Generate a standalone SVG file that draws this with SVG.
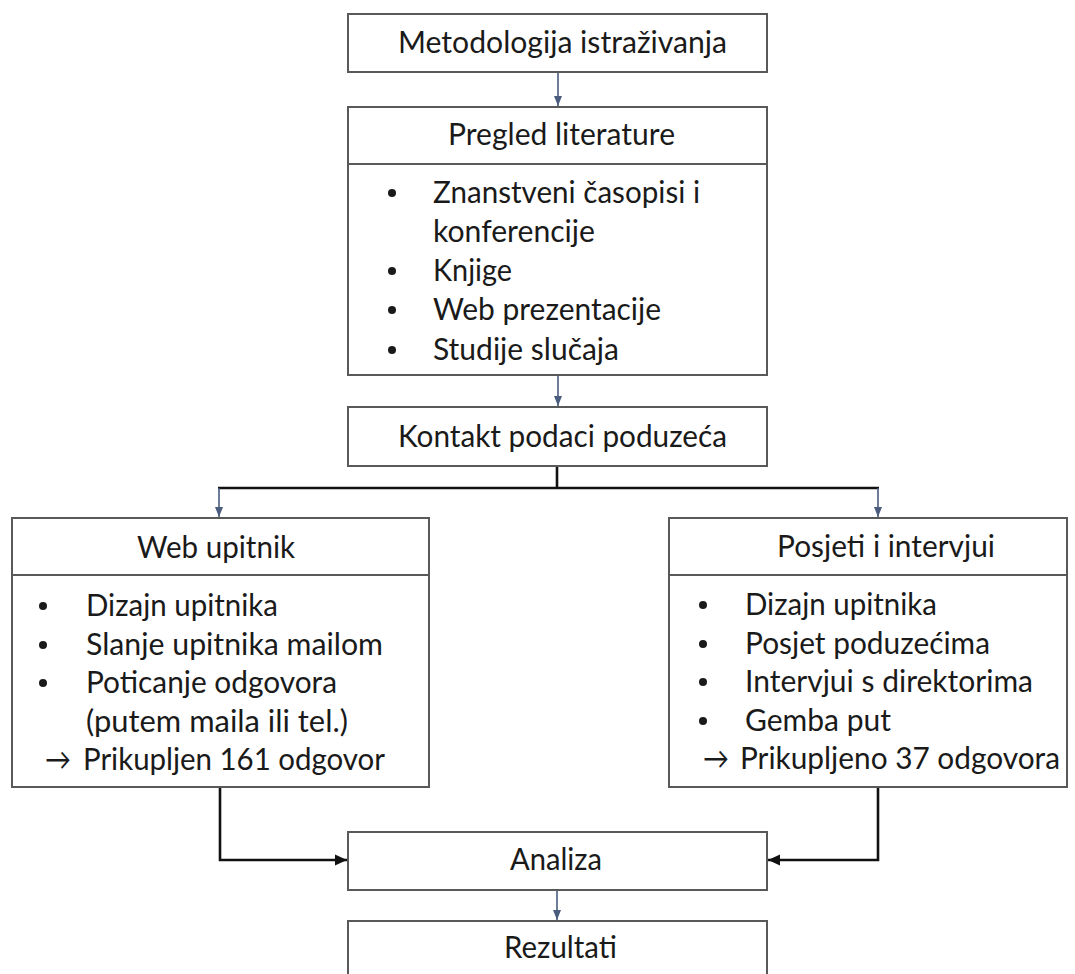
<svg xmlns="http://www.w3.org/2000/svg" width="1075" height="974" viewBox="0 0 1075 974">
<style>
.box{fill:#ffffff;stroke:#595959;stroke-width:2}
.div{stroke:#595959;stroke-width:2;fill:none}
.t{font-family:Lato,"Open Sans","Liberation Sans",sans-serif;font-size:30px;fill:#1a1a1a}
.dot{fill:#1a1a1a}
.cs{fill:none;stroke:#4a5d7e;stroke-width:1.6}
.cb{fill:none;stroke:#111111;stroke-width:2.6}
</style>
<defs>
<marker id="ahs" markerUnits="userSpaceOnUse" markerWidth="10" markerHeight="10" viewBox="0 0 10 10" refX="10" refY="5" orient="auto"><path d="M0,1 L10,5 L0,9 z" fill="#4a5d7e"/></marker>
<marker id="ahb" markerUnits="userSpaceOnUse" markerWidth="12" markerHeight="12" viewBox="0 0 12 12" refX="12" refY="6" orient="auto"><path d="M0,0.5 L12,6 L0,11.5 z" fill="#111111"/></marker>
</defs>
<rect width="1075" height="974" fill="#ffffff"/>

<g id="connectors">
<path class="cs" d="M558,72 V106" marker-end="url(#ahs)"/>
<path class="cs" d="M558,375 V406" marker-end="url(#ahs)"/>
<path class="cb" d="M557,466 V488"/>
<path class="cb" d="M218,488 H879"/>
<path class="cs" d="M219,488 V517" marker-end="url(#ahs)"/>
<path class="cs" d="M878,488 V517" marker-end="url(#ahs)"/>
<path class="cb" d="M220,787 V860 H347" marker-end="url(#ahb)"/>
<path class="cb" d="M878,787 V860 H768" marker-end="url(#ahb)"/>
<path class="cs" d="M557,890 V920" marker-end="url(#ahs)"/>
</g>

<g id="metodologija">
<rect class="box" x="348" y="14" width="419" height="58"/>
<text class="t" x="398" y="53" textLength="329" lengthAdjust="spacingAndGlyphs">Metodologija istraživanja</text>
</g>

<g id="pregled">
<rect class="box" x="348" y="107" width="419" height="268"/>
<line class="div" x1="348" y1="164" x2="767" y2="164"/>
<text class="t" x="448" y="145" textLength="227" lengthAdjust="spacingAndGlyphs">Pregled literature</text>
<circle class="dot" cx="392" cy="193" r="4"/>
<text class="t" x="433" y="203" textLength="267" lengthAdjust="spacingAndGlyphs">Znanstveni časopisi i</text>
<text class="t" x="433" y="242" textLength="162" lengthAdjust="spacingAndGlyphs">konferencije</text>
<circle class="dot" cx="392" cy="271" r="4"/>
<text class="t" x="433" y="281" textLength="79" lengthAdjust="spacingAndGlyphs">Knjige</text>
<circle class="dot" cx="392" cy="310" r="4"/>
<text class="t" x="433" y="320" textLength="228" lengthAdjust="spacingAndGlyphs">Web prezentacije</text>
<circle class="dot" cx="392" cy="350" r="4"/>
<text class="t" x="433" y="360" textLength="186" lengthAdjust="spacingAndGlyphs">Studije slučaja</text>
</g>

<g id="kontakt">
<rect class="box" x="348" y="407" width="419" height="59"/>
<text class="t" x="398" y="447" textLength="329" lengthAdjust="spacingAndGlyphs">Kontakt podaci poduzeća</text>
</g>

<g id="web-upitnik">
<rect class="box" x="12" y="518" width="417" height="269"/>
<line class="div" x1="12" y1="575" x2="429" y2="575"/>
<text class="t" x="137" y="558" textLength="158" lengthAdjust="spacingAndGlyphs">Web upitnik</text>
<circle class="dot" cx="43" cy="606" r="4"/>
<text class="t" x="86" y="616" textLength="192" lengthAdjust="spacingAndGlyphs">Dizajn upitnika</text>
<circle class="dot" cx="43" cy="645" r="4"/>
<text class="t" x="86" y="655" textLength="297" lengthAdjust="spacingAndGlyphs">Slanje upitnika mailom</text>
<circle class="dot" cx="43" cy="683" r="4"/>
<text class="t" x="86" y="693" textLength="251" lengthAdjust="spacingAndGlyphs">Poticanje odgovora</text>
<text class="t" x="86" y="732" textLength="262" lengthAdjust="spacingAndGlyphs">(putem maila ili tel.)</text>
<text class="t" x="45" y="770" textLength="26" lengthAdjust="spacingAndGlyphs">→</text>
<text class="t" x="83" y="770" textLength="302" lengthAdjust="spacingAndGlyphs">Prikupljen 161 odgovor</text>
</g>

<g id="posjeti">
<rect class="box" x="669" y="518" width="398" height="269"/>
<line class="div" x1="669" y1="575" x2="1067" y2="575"/>
<text class="t" x="777" y="557" textLength="218" lengthAdjust="spacingAndGlyphs">Posjeti i intervjui</text>
<circle class="dot" cx="703" cy="605" r="4"/>
<text class="t" x="745" y="615" textLength="192" lengthAdjust="spacingAndGlyphs">Dizajn upitnika</text>
<circle class="dot" cx="703" cy="644" r="4"/>
<text class="t" x="745" y="654" textLength="245" lengthAdjust="spacingAndGlyphs">Posjet poduzećima</text>
<circle class="dot" cx="703" cy="682" r="4"/>
<text class="t" x="745" y="692" textLength="288" lengthAdjust="spacingAndGlyphs">Intervjui s direktorima</text>
<circle class="dot" cx="703" cy="721" r="4"/>
<text class="t" x="745" y="731" textLength="146" lengthAdjust="spacingAndGlyphs">Gemba put</text>
<text class="t" x="703" y="769" textLength="26" lengthAdjust="spacingAndGlyphs">→</text>
<text class="t" x="740" y="769" textLength="320" lengthAdjust="spacingAndGlyphs">Prikupljeno 37 odgovora</text>
</g>

<g id="analiza">
<rect class="box" x="348" y="832" width="419" height="58"/>
<text class="t" x="510" y="870" textLength="92" lengthAdjust="spacingAndGlyphs">Analiza</text>
</g>

<g id="rezultati">
<rect class="box" x="348" y="921" width="419" height="70"/>
<text class="t" x="504" y="958" textLength="113" lengthAdjust="spacingAndGlyphs">Rezultati</text>
</g>
</svg>
